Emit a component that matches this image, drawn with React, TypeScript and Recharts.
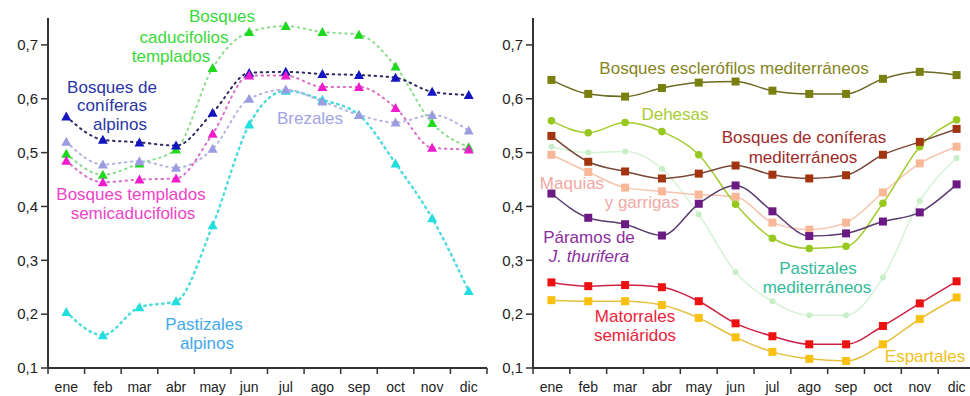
import { LineChart, Line, XAxis, YAxis } from 'recharts';

const months = ['ene', 'feb', 'mar', 'abr', 'may', 'jun', 'jul', 'ago', 'sep', 'oct', 'nov', 'dic'];
const yTicks = [0.1, 0.2, 0.3, 0.4, 0.5, 0.6, 0.7];

// left panel
const coniferasAlpinos = [0.567, 0.524, 0.519, 0.513, 0.574, 0.648, 0.65, 0.646, 0.644, 0.639, 0.613, 0.607];
const caducifolios = [0.498, 0.459, 0.48, 0.506, 0.657, 0.724, 0.735, 0.724, 0.719, 0.66, 0.555, 0.51];
const brezales = [0.52, 0.478, 0.484, 0.472, 0.507, 0.6, 0.617, 0.595, 0.57, 0.556, 0.57, 0.541];
const semicaducifolios = [0.485, 0.445, 0.45, 0.452, 0.535, 0.643, 0.643, 0.622, 0.622, 0.583, 0.509, 0.506];
const pastizalesAlpinos = [0.204, 0.161, 0.213, 0.224, 0.365, 0.552, 0.615, 0.598, 0.57, 0.48, 0.378, 0.243];

// right panel
const esclerofilos = [0.635, 0.609, 0.604, 0.62, 0.63, 0.632, 0.615, 0.609, 0.609, 0.637, 0.65, 0.644];
const dehesas = [0.559, 0.537, 0.556, 0.539, 0.496, 0.404, 0.341, 0.322, 0.326, 0.406, 0.511, 0.561];
const coniferasMed = [0.531, 0.483, 0.465, 0.452, 0.461, 0.476, 0.459, 0.452, 0.458, 0.496, 0.52, 0.544];
const maquias = [0.496, 0.464, 0.435, 0.428, 0.422, 0.418, 0.37, 0.357, 0.37, 0.426, 0.48, 0.511];
const paramos = [0.424, 0.379, 0.367, 0.346, 0.405, 0.439, 0.391, 0.345, 0.35, 0.372, 0.389, 0.441];
const matorrales = [0.259, 0.252, 0.254, 0.25, 0.224, 0.183, 0.159, 0.144, 0.144, 0.178, 0.22, 0.261];
const espartales = [0.226, 0.224, 0.224, 0.217, 0.193, 0.157, 0.13, 0.117, 0.113, 0.144, 0.191, 0.231];
const pastizalesMed = [0.511, 0.5, 0.502, 0.47, 0.385, 0.278, 0.224, 0.198, 0.198, 0.268, 0.41, 0.49];

const leftData = months.map((m, i) => ({
  month: m,
  coniferasAlpinos: coniferasAlpinos[i],
  caducifolios: caducifolios[i],
  brezales: brezales[i],
  semicaducifolios: semicaducifolios[i],
  pastizalesAlpinos: pastizalesAlpinos[i],
}));

const rightData = months.map((m, i) => ({
  month: m,
  esclerofilos: esclerofilos[i],
  dehesas: dehesas[i],
  coniferasMed: coniferasMed[i],
  maquias: maquias[i],
  paramos: paramos[i],
  matorrales: matorrales[i],
  espartales: espartales[i],
  pastizalesMed: pastizalesMed[i],
}));

const FONT = '"Liberation Sans", Arial, sans-serif';
const AXIS = '#333';
const AXIS_Y = 368;

const fmt = (v: number) => v.toFixed(1).replace('.', ',');

const triangle = (fill: string) => (p: any) => (
  <polygon
    key={p.index}
    points={`${p.cx},${p.cy - 5} ${p.cx - 5},${p.cy + 4} ${p.cx + 5},${p.cy + 4}`}
    fill={fill}
  />
);

const square = (fill: string) => (p: any) => (
  <rect key={p.index} x={p.cx - 4} y={p.cy - 4} width={8} height={8} fill={fill} />
);

const circle = (fill: string, r: number) => (p: any) => (
  <circle key={p.index} cx={p.cx} cy={p.cy} r={r} fill={fill} />
);

const monthTick = (band: number) => (props: any) => {
  const { x, payload, index } = props;
  return (
    <g>
      <line x1={x - band / 2} x2={x - band / 2} y1={AXIS_Y} y2={AXIS_Y + 6} stroke={AXIS} strokeWidth={1.5} />
      {index === months.length - 1 && (
        <line x1={x + band / 2} x2={x + band / 2} y1={AXIS_Y} y2={AXIS_Y + 6} stroke={AXIS} strokeWidth={1.5} />
      )}
      <text x={x} y={392} textAnchor="middle" fontSize={14} fontFamily={FONT} fill="#222">
        {payload.value}
      </text>
    </g>
  );
};

type Lbl = { t: string; x: number; y: number; c: string; italic?: boolean };

const labels: Lbl[] = [
  { t: 'Bosques', x: 222, y: 16, c: '#3ad83a' },
  { t: 'caducifolios', x: 184, y: 37, c: '#3ad83a' },
  { t: 'templados', x: 171, y: 56, c: '#3ad83a' },
  { t: 'Bosques de', x: 112, y: 87, c: '#2a35a8' },
  { t: 'coníferas', x: 112, y: 105, c: '#2a35a8' },
  { t: 'alpinos', x: 120, y: 124, c: '#2a35a8' },
  { t: 'Brezales', x: 310, y: 118, c: '#a3a3e3' },
  { t: 'Bosques templados', x: 131, y: 194, c: '#ee44c8' },
  { t: 'semicaducifolios', x: 133, y: 213, c: '#ee44c8' },
  { t: 'Pastizales', x: 204, y: 324, c: '#44a8ee' },
  { t: 'alpinos', x: 207, y: 343, c: '#44a8ee' },
  { t: 'Bosques esclerófilos mediterráneos', x: 734, y: 68, c: '#85851c' },
  { t: 'Dehesas', x: 675, y: 114, c: '#a8cc35' },
  { t: 'Bosques de coníferas', x: 804, y: 137, c: '#a02a28' },
  { t: 'mediterráneos', x: 803, y: 157, c: '#a02a28' },
  { t: 'Maquias', x: 572, y: 183, c: '#f2a8a4' },
  { t: 'y garrigas', x: 642, y: 202, c: '#f2a8a4' },
  { t: 'Páramos de', x: 589, y: 237, c: '#8a2f9e' },
  { t: 'J. thurifera', x: 589, y: 256, c: '#8a2f9e', italic: true },
  { t: 'Pastizales', x: 818, y: 268, c: '#33bb99' },
  { t: 'mediterráneos', x: 817, y: 287, c: '#33bb99' },
  { t: 'Matorrales', x: 635, y: 316, c: '#ee2238' },
  { t: 'semiáridos', x: 635, y: 335, c: '#ee2238' },
  { t: 'Espartales', x: 925, y: 356, c: '#f0c020' },
];

const dotted = { strokeDasharray: '1.5 4.5', strokeLinecap: 'round' as const, strokeWidth: 2 };

export default function App() {
  const leftBand = 439 / 12;
  const rightBand = 442 / 12;
  const yAxisProps = {
    type: 'number' as const,
    domain: [0.1, 0.75],
    ticks: yTicks,
    tickFormatter: fmt,
    axisLine: { stroke: AXIS, strokeWidth: 2 },
    tickLine: { stroke: AXIS, strokeWidth: 1.5 },
    tickSize: 7,
    tickMargin: 3,
    tick: { fontSize: 15, fontFamily: FONT, fill: '#222' },
    allowDataOverflow: true,
  };

  return (
    <div style={{ position: 'absolute', left: 0, top: 0, width: 970, height: 396, background: '#fff', overflow: 'hidden' }}>
      <div style={{ position: 'absolute', left: 0, top: 0 }}>
        <LineChart width={490} height={396} data={leftData} margin={{ top: 18, right: 3, bottom: 0, left: 0 }}>
          <XAxis
            dataKey="month"
            height={28}
            interval={0}
            padding={{ left: leftBand / 2, right: leftBand / 2 }}
            axisLine={{ stroke: AXIS, strokeWidth: 2 }}
            tickLine={false}
            tick={monthTick(leftBand)}
          />
          <YAxis width={48} {...yAxisProps} />
          <Line type="monotone" dataKey="pastizalesAlpinos" stroke="#4fdcdc" {...dotted} strokeWidth={2.5} dot={triangle('#22dede')} isAnimationActive={false} />
          <Line type="monotone" dataKey="caducifolios" stroke="#8cdc8c" {...dotted} dot={triangle('#1ed81e')} isAnimationActive={false} />
          <Line type="monotone" dataKey="brezales" stroke="#b4b4e4" {...dotted} dot={triangle('#9c9ce0')} isAnimationActive={false} />
          <Line type="monotone" dataKey="coniferasAlpinos" stroke="#2a2a60" {...dotted} dot={triangle('#1414c0')} isAnimationActive={false} />
          <Line type="monotone" dataKey="semicaducifolios" stroke="#d870c8" {...dotted} dot={triangle('#ee1ccc')} isAnimationActive={false} />
        </LineChart>
      </div>
      <div style={{ position: 'absolute', left: 490, top: 0 }}>
        <LineChart width={485} height={396} data={rightData} margin={{ top: 18, right: 0, bottom: 0, left: 0 }}>
          <XAxis
            dataKey="month"
            height={28}
            interval={0}
            padding={{ left: rightBand / 2, right: rightBand / 2 }}
            axisLine={{ stroke: AXIS, strokeWidth: 2 }}
            tickLine={false}
            tick={monthTick(rightBand)}
          />
          <YAxis width={43} {...yAxisProps} />
          <Line type="monotone" dataKey="pastizalesMed" stroke="#d6f2d6" strokeWidth={1.5} dot={circle('#c8eec8', 3)} isAnimationActive={false} />
          <Line type="monotone" dataKey="maquias" stroke="#f6c4ac" strokeWidth={1.5} dot={square('#f8b898')} isAnimationActive={false} />
          <Line type="monotone" dataKey="dehesas" stroke="#a4cc30" strokeWidth={1.5} dot={circle('#96c81e', 3.8)} isAnimationActive={false} />
          <Line type="monotone" dataKey="coniferasMed" stroke="#7a4838" strokeWidth={1.5} dot={square('#a23410')} isAnimationActive={false} />
          <Line type="monotone" dataKey="paramos" stroke="#5a3a70" strokeWidth={1.5} dot={square('#6a1a82')} isAnimationActive={false} />
          <Line type="monotone" dataKey="esclerofilos" stroke="#6a6a22" strokeWidth={1.5} dot={square('#7a8010')} isAnimationActive={false} />
          <Line type="monotone" dataKey="matorrales" stroke="#cc2244" strokeWidth={1.5} dot={square('#ee1111')} isAnimationActive={false} />
          <Line type="monotone" dataKey="espartales" stroke="#e8c040" strokeWidth={1.5} dot={square('#f8c010')} isAnimationActive={false} />
        </LineChart>
      </div>
      <svg width={970} height={396} style={{ position: 'absolute', left: 0, top: 0, pointerEvents: 'none' }}>
        {labels.map((l, i) => (
          <text
            key={i}
            x={l.x}
            y={l.y}
            textAnchor="middle"
            dominantBaseline="central"
            fontSize={17}
            fontFamily={FONT}
            fontStyle={l.italic ? 'italic' : 'normal'}
            fill={l.c}
          >
            {l.t}
          </text>
        ))}
      </svg>
    </div>
  );
}
